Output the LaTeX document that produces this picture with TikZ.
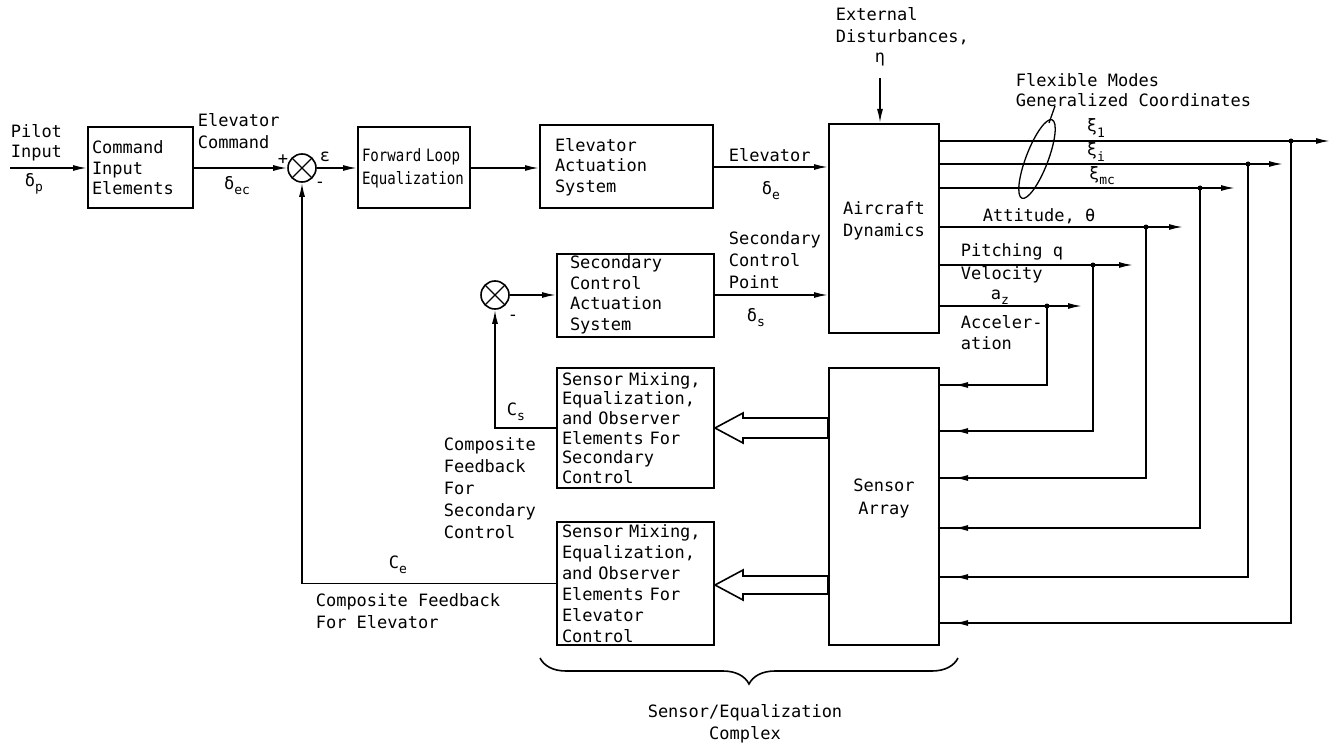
\documentclass[tikz,border=0pt]{standalone}
\usepackage{fontspec}
\setmainfont{DejaVu Sans Mono}
\usetikzlibrary{arrows.meta,decorations.pathreplacing,decorations.markings,calc}
\newcommand\lsub[1]{\raisebox{-0.3em}{\fontsize{13}{13}\selectfont #1}}
\begin{document}
\begin{tikzpicture}[x=1pt,y=-1pt, line width=1.6pt,
  box/.style={draw, line width=2pt, align=left, inner ysep=0pt, font=\fontsize{17}{20.5}\selectfont},
  lbl/.style={align=left, inner sep=0pt, font=\fontsize{17}{22}\selectfont},
  sig/.style={-{Latex[length=14pt,width=6pt]}},
  sumj/.style={circle, draw, line width=1.6pt, minimum size=28pt, inner sep=0pt,
    path picture={\draw[line width=1.2pt] (path picture bounding box.north west) -- (path picture bounding box.south east)
      (path picture bounding box.north east) -- (path picture bounding box.south west);}},
  bpt/.style={circle, fill, inner sep=0pt, minimum size=5pt},
  fbarrow/.style={postaction={decorate}, decoration={markings, mark=at position -14pt with {\arrow{Latex[length=14pt,width=6pt]}}}},
  hollow/.style={draw, line width=1.6pt, fill=white, line join=miter}
]
\useasboundingbox (0,0) rectangle (1338,746);

% ---- blocks ----
\node[box, text width=97pt, inner xsep=4pt, minimum height=81pt] (cmd) at (140.5,168) {Command\\Input\\Elements};
\node[box, text width=104pt, inner xsep=4pt, minimum height=81pt, font=\fontsize{17}{23}\selectfont] (fwd) at (414,168) {\scalebox{0.83}[1]{Forward Loop}\\\scalebox{0.83}[1]{Equalization}};
\node[box, text width=143pt, inner xsep=15pt, minimum height=83pt] (elev) at (626.5,167) {Elevator\\Actuation\\System};
\node[box, minimum width=110pt, minimum height=209pt] (acd) at (884,228.5) {};
\node[lbl, align=center, font=\fontsize{17}{22}\selectfont] (acdt) at (884,221) {Aircraft\\Dynamics};
\node[box, text width=131pt, inner xsep=13pt, minimum height=83pt] (secact) at (635.5,295) {Secondary\\Control\\Actuation\\System};
\node[box, text width=147pt, inner xsep=5pt, minimum height=120pt, font=\fontsize{17}{19.6}\selectfont] (sms) at (635.5,428) {Sensor Mixing,\\Equalization,\\and Observer\\Elements For\\Secondary\\Control};
\node[box, text width=147pt, inner xsep=5pt, minimum height=123pt, font=\fontsize{17}{21}\selectfont] (sme) at (635.5,583.5) {Sensor Mixing,\\Equalization,\\and Observer\\Elements For\\Elevator\\Control};
\node[box, minimum width=110pt, minimum height=277pt] (sarr) at (884,506.5) {};
\node[lbl, align=center, font=\fontsize{17}{23}\selectfont] (sarrt) at (884,498) {Sensor\\Array};

% ---- junctions ----
\node[sumj] (j1) at (302,168) {};
\node[sumj] (j2) at (495,295) {};

% ---- forward path ----
\coordinate (pin) at (10,168);
\draw[sig] (pin) -- (cmd.west);
\draw[sig] (cmd.east) -- (j1.west);
\draw[sig] (j1.east) -- (fwd.west);
\draw[sig] (fwd.east) -- (elev.west |- fwd.east);
\draw[sig] (elev.east) -- (acd.west |- elev.east);
\draw[sig] (j2.east) -- (secact.west |- j2);
\draw[sig] (secact.east) -- (acd.west |- secact.east);
\coordinate (dist) at (880,78);
\draw[sig] (dist) -- (dist |- acd.north);

% ---- feedback to junctions ----
\draw[sig] (sms.west) -- (sms.west -| j2) -- (j2.south);
\draw[sig] (sme.west) -- (sme.west -| j1) -- (j1.south);

% ---- hollow arrows ----
\coordinate (hs1) at ($(sms.east)+(0,-10)$);
\coordinate (hs2) at ($(sms.east)+(0,10)$);
\draw[hollow] (sms.east) -- ++(28,-15) -- ++(0,5) -- (sarr.west |- hs1) -- (sarr.west |- hs2) -- ($(sms.east)+(28,10)$) -- ++(0,5) -- cycle;
\coordinate (he0) at ($(sme.east)+(0,1.5)$);
\coordinate (he1) at ($(he0)+(0,-9)$);
\coordinate (he2) at ($(he0)+(0,9)$);
\draw[hollow] (he0) -- ++(28,-15) -- ++(0,6) -- (sarr.west |- he1) -- (sarr.west |- he2) -- ($(he0)+(28,9)$) -- ++(0,6) -- cycle;

% ---- outputs and returns ----
\foreach \yo/\xe/\xb/\yr [count=\i] in {141/1330/1291/623, 164/1283/1248/577, 188/1235/1200/528, 227/1183/1146/478, 265/1133/1093/431, 306/1082/1047/385}{
  \coordinate (o\i) at (\xe,\yo);
  \coordinate (b\i) at (\xb,\yo);
  \coordinate (r\i) at (\xb,\yr);
  \draw[sig] (acd.east |- o\i) -- (o\i);
  \node[bpt] (d\i) at (b\i) {};
  \draw[fbarrow] (b\i) -- (r\i) -- (sarr.east |- r\i);
}

% ---- flexible modes ellipse ----
\draw[line width=1.3pt, rotate around={69:(1037,159)}] (1037,159) ellipse [x radius=42pt, y radius=11pt];
\coordinate (ldA) at (1055,106);
\coordinate (ldB) at (1049,123);
\draw[line width=1.3pt] (ldA) -- (ldB);

% ---- brace ----
\draw[line width=1.6pt, decorate, decoration={brace, amplitude=26pt, mirror}] (540,658) -- (958,658);

% ---- labels ----
\node[lbl, anchor=west, font=\fontsize{17}{20}\selectfont] (lpi) at (10,143) {Pilot\\Input};
\node[lbl] (ldp) at (34,184) {δ\lsub{p}};
\node[lbl, anchor=west] (lec) at (197,131) {Elevator\\Command};
\node[lbl] (ldec) at (237,186) {δ\lsub{ec}};
\node[lbl] (lplus) at (283,160) {+};
\node[lbl] (lmin1) at (320,185) {-};
\node[lbl] (leps) at (325,157) {ε};
\node[lbl, anchor=west] (lel) at (728,155) {Elevator};
\node[lbl] (lde) at (771,191) {δ\lsub{e}};
\node[lbl, anchor=west] (lscp) at (728,260) {Secondary\\Control\\Point};
\node[lbl] (lds) at (756,318) {δ\lsub{s}};
\node[lbl, anchor=west] (lext) at (835,26) {External\\Disturbances,};
\node[lbl] (leta) at (880,60) {η};
\node[lbl, anchor=west, font=\fontsize{17}{20}\selectfont] (lflex) at (1015,90) {Flexible Modes\\Generalized Coordinates};
\node[lbl] (lx1) at (1096,128) {ξ\lsub{1}};
\node[lbl] (lxi) at (1096,152) {ξ\lsub{i}};
\node[lbl] (lxm) at (1102,176) {ξ\lsub{mc}};
\node[lbl, anchor=west] (latt) at (982,216) {Attitude, θ};
\node[lbl, anchor=west, font=\fontsize{17}{23}\selectfont] (lpv) at (960,263) {Pitching q\\Velocity};
\node[lbl] (laz) at (1000,297) {a\lsub{z}};
\node[lbl, anchor=west, font=\fontsize{17}{21}\selectfont] (lacc) at (960,333) {Acceler-\\ation};
\node[lbl] (lcs) at (516,412) {C\lsub{s}};
\node[lbl] (lmin2) at (513,318) {-};
\node[lbl, anchor=west] (lcfs) at (443,488) {Composite\\Feedback\\For\\Secondary\\Control};
\node[lbl] (lce) at (398,565) {C\lsub{e}};
\node[lbl, anchor=west] (lcfe) at (315,611) {Composite Feedback\\For Elevator};
\node[lbl, align=center] (lsec) at (745,724) {Sensor/Equalization\\Complex};
\end{tikzpicture}
\end{document}
